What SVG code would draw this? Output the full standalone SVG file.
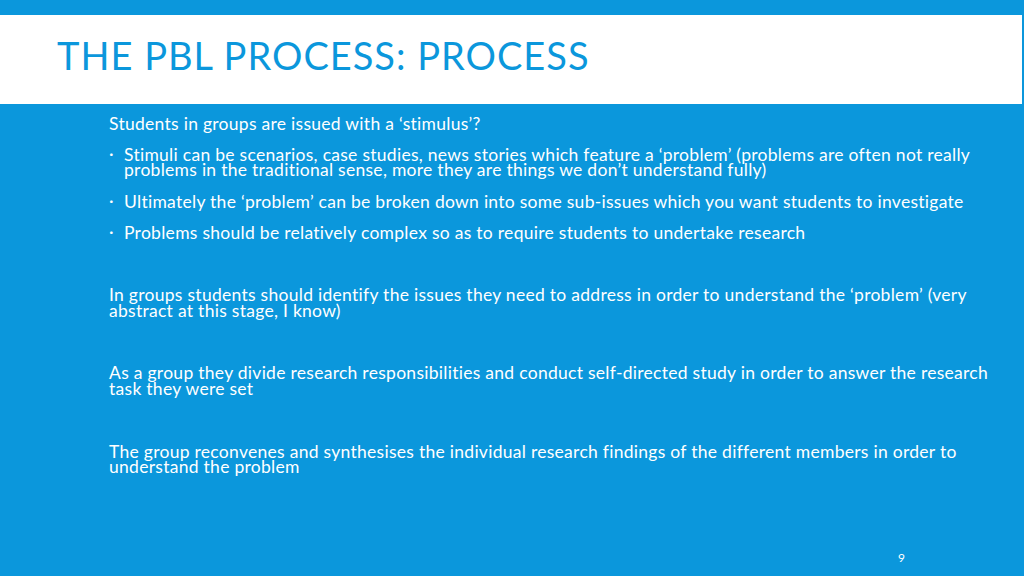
<svg xmlns="http://www.w3.org/2000/svg" width="1024" height="576" viewBox="0 0 1024 576">
<style>
.t{font-family:Lato,"Liberation Sans",sans-serif;font-size:17.5px;letter-spacing:0.28px;fill:#fff}
</style>
<rect width="1024" height="576" fill="#0b97dc"/>
<rect x="0" y="15" width="1022" height="89" fill="#fff"/>
<text x="57" y="70" font-family="Lato,'Liberation Sans',sans-serif" font-size="38" letter-spacing="1" fill="#0b97dc">THE PBL PROCESS: PROCESS</text>
<g class="t">
<text x="109" y="130">Students in groups are issued with a ‘stimulus’?</text>
<text x="109" y="160">·</text>
<text x="124" y="161">Stimuli can be scenarios, case studies, news stories which feature a ‘problem’ (problems are often not really</text>
<text x="124" y="176">problems in the traditional sense, more they are things we don’t understand fully)</text>
<text x="109" y="207">·</text>
<text x="124" y="208">Ultimately the ‘problem’ can be broken down into some sub-issues which you want students to investigate</text>
<text x="109" y="238">·</text>
<text x="124" y="239">Problems should be relatively complex so as to require students to undertake research</text>
<text x="109" y="301">In groups students should identify the issues they need to address in order to understand the ‘problem’ (very</text>
<text x="109" y="317">abstract at this stage, I know)</text>
<text x="109" y="379">As a group they divide research responsibilities and conduct self-directed study in order to answer the research</text>
<text x="109" y="395">task they were set</text>
<text x="109" y="458">The group reconvenes and synthesises the individual research findings of the different members in order to</text>
<text x="109" y="473">understand the problem</text>
<text x="898" y="562" font-size="12">9</text>
</g>
</svg>
